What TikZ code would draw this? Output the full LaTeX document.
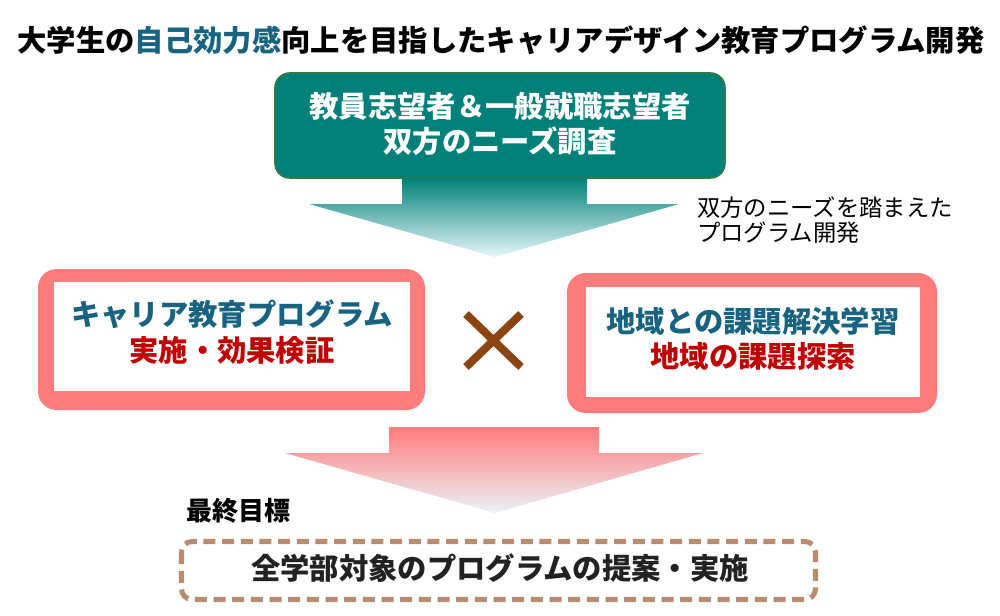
\documentclass[tikz,border=0pt]{standalone}
\usepackage{fontspec}
\setmainfont{Noto Sans CJK JP}
\definecolor{tealbox}{RGB}{0,128,120}
\definecolor{tealedge}{RGB}{46,125,70}
\definecolor{tealfade}{RGB}{232,247,250}
\definecolor{pinkedge}{RGB}{255,124,124}
\definecolor{pinkfade}{RGB}{232,244,248}
\definecolor{bluetext}{RGB}{24,100,128}
\definecolor{redtext}{RGB}{192,0,0}
\definecolor{crossbrown}{RGB}{139,69,19}
\definecolor{dashbrown}{RGB}{185,140,112}
\definecolor{darktext}{RGB}{34,34,34}
\tikzset{
	bigtext/.style={font=\fontsize{22}{26.5}\selectfont\bfseries, align=center, inner sep=0pt},
	sidetext/.style={font=\fontsize{17.5}{19}\selectfont, align=left, anchor=west, inner sep=0pt},
	pinkframe/.style={fill=pinkedge, rounded corners=14pt},
	blockarrow/.style={draw=none},
}
\begin{document}
\begin{tikzpicture}[x=0.75pt,y=0.75pt,yscale=-1,xscale=1]
	\useasboundingbox (0,0) rectangle (1000,615);

	%title
	\node[bigtext] (title) at (501,40) {大学生の\textcolor{bluetext}{自己効力感}向上を目指したキャリアデザイン教育プログラム開発};

	%needs survey
	\draw[fill=tealbox, draw=tealedge, line width=1.2pt, rounded corners=11pt] (275,73) rectangle (725,178);
	\node[bigtext, text=white] (needs) at (500,124) {教員志望者＆一般就職志望者\\双方のニーズ調査};
	\shade[blockarrow, top color=tealbox, bottom color=tealfade] (402,178) -- (587,178) -- (587,204) -- (679,204) -- (495,257) -- (309,204) -- (402,204) -- cycle;
	\node[sidetext] (sidenote) at (697,220) {双方のニーズを踏まえた\\プログラム開発};

	%two programs
	\fill[pinkframe] (38,269) rectangle (425,410);
	\fill[white] (54,282) rectangle (410,391);
	\node[bigtext] (career) at (232,332) {\textcolor{bluetext}{キャリア教育プログラム}\\\textcolor{redtext}{実施・効果検証}};
	\fill[pinkframe] (567,273) rectangle (937,413);
	\fill[white] (586,287) rectangle (920,397);
	\node[bigtext] (region) at (753,339) {\textcolor{bluetext}{地域との課題解決学習}\\\textcolor{redtext}{地域の課題探索}};
	\draw[crossbrown, line width=6pt] (466,314) -- (521,367) (521,314) -- (466,367);

	%goal
	\shade[blockarrow, top color=pinkedge, bottom color=pinkfade] (389,427) -- (599,427) -- (599,453) -- (703,453) -- (495,513) -- (285,453) -- (389,453) -- cycle;
	\node[font=\fontsize{19.5}{20}\selectfont\bfseries, anchor=west, inner sep=0pt] (goallabel) at (186,511) {最終目標};
	\draw[dashbrown, line width=3.8pt, dash pattern=on 9pt off 5pt, rounded corners=8pt] (181.5,541.5) rectangle (815.5,599.5);
	\node[bigtext, text=darktext] (proposal) at (500,568) {全学部対象のプログラムの提案・実施};
\end{tikzpicture}
\end{document}
